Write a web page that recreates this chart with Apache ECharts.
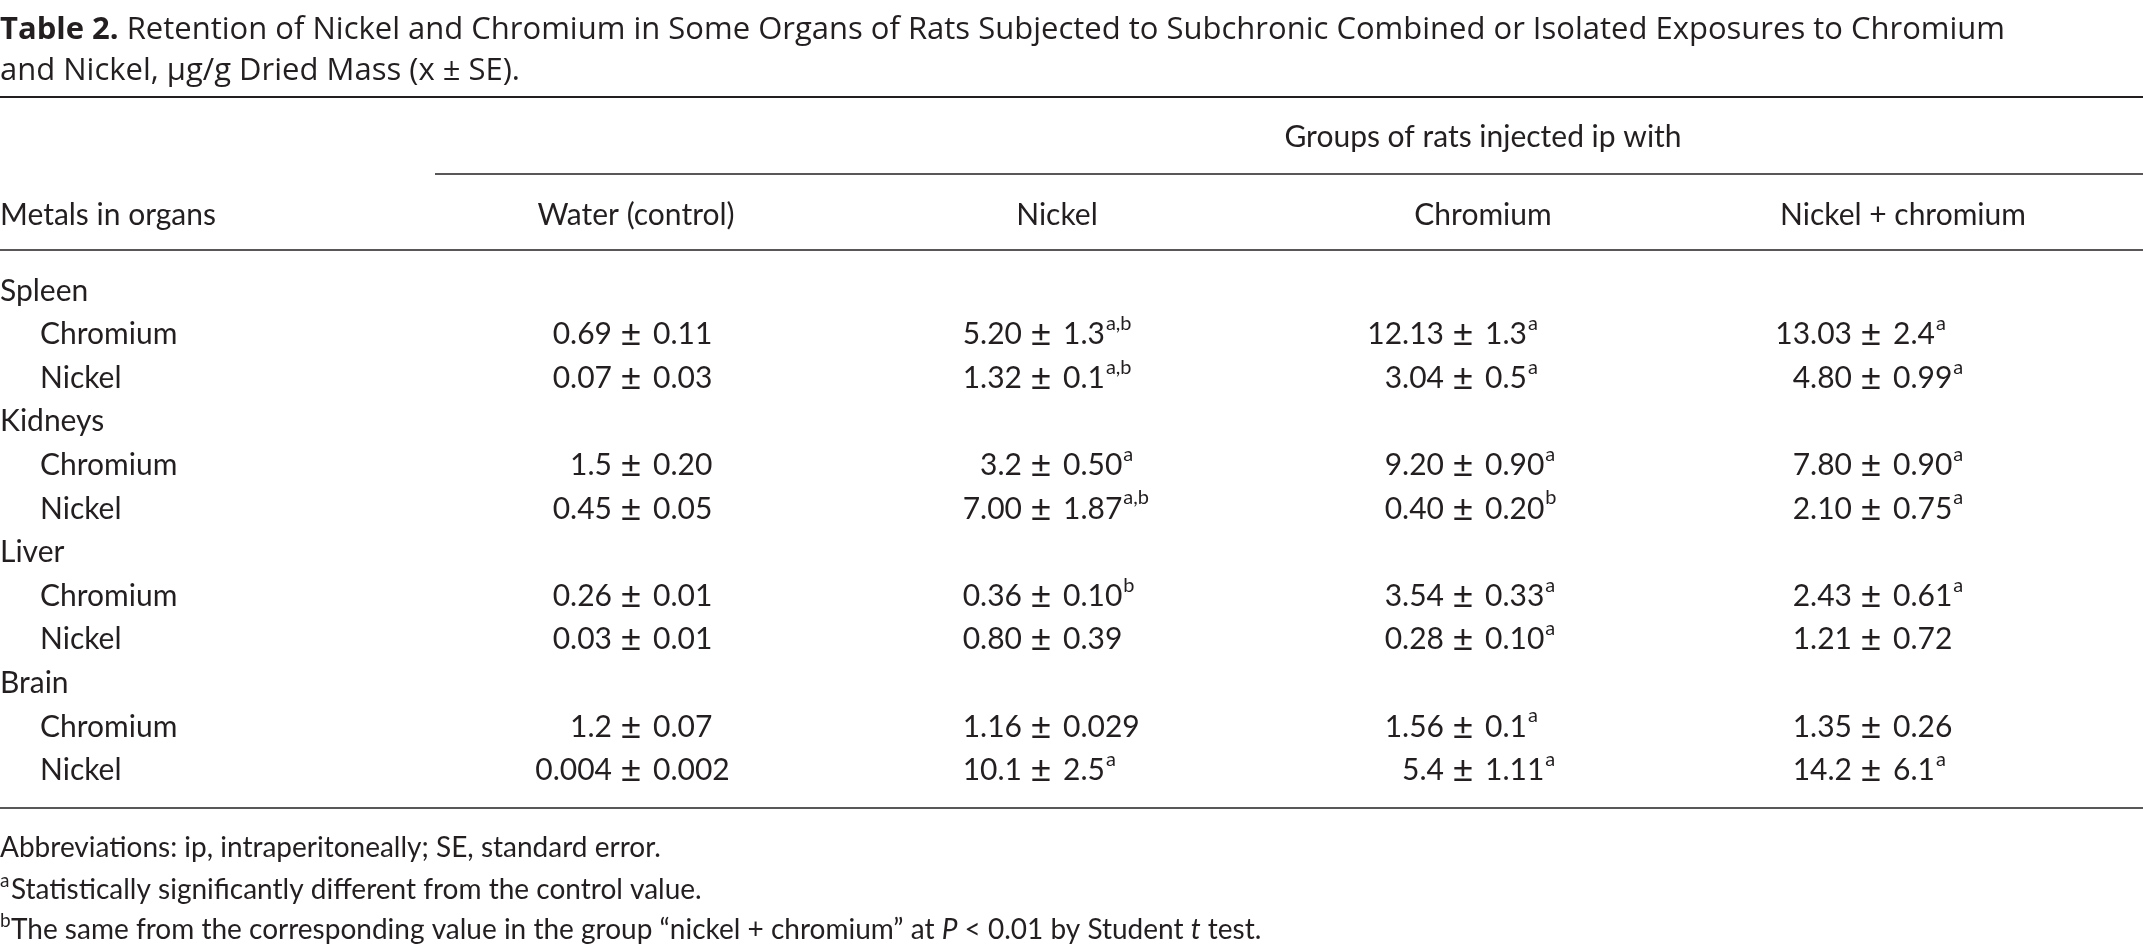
<!DOCTYPE html>
<html>
<head>
<meta charset="utf-8">
<title>Table 2</title>
<script src="https://cdn.jsdelivr.net/npm/echarts@6/dist/echarts.min.js"></script>
<style>html,body{margin:0;background:#fff}#main{width:2143px;height:944px}</style>
</head>
<body>
<div id="main"></div>
<script>
// table content
var groups = ['Water (control)', 'Nickel', 'Chromium', 'Nickel + chromium'];
var organs = ['Spleen', 'Kidneys', 'Liver', 'Brain'];
var metals = ['Chromium', 'Nickel'];
var means = [
  ['0.69', '5.20', '12.13', '13.03'],
  ['0.07', '1.32', '3.04', '4.80'],
  ['1.5', '3.2', '9.20', '7.80'],
  ['0.45', '7.00', '0.40', '2.10'],
  ['0.26', '0.36', '3.54', '2.43'],
  ['0.03', '0.80', '0.28', '1.21'],
  ['1.2', '1.16', '1.56', '1.35'],
  ['0.004', '10.1', '5.4', '14.2']
];
var errors = [
  ['0.11', '1.3', '1.3', '2.4'],
  ['0.03', '0.1', '0.5', '0.99'],
  ['0.20', '0.50', '0.90', '0.90'],
  ['0.05', '1.87', '0.20', '0.75'],
  ['0.01', '0.10', '0.33', '0.61'],
  ['0.01', '0.39', '0.10', '0.72'],
  ['0.07', '0.029', '0.1', '0.26'],
  ['0.002', '2.5', '1.11', '6.1']
];
var marks = [
  ['', 'a,b', 'a', 'a'],
  ['', 'a,b', 'a', 'a'],
  ['', 'a', 'a', 'a'],
  ['', 'a,b', 'b', 'a'],
  ['', 'b', 'a', 'a'],
  ['', '', 'a', ''],
  ['', '', 'a', ''],
  ['', 'a', 'a', 'a']
];

var chart = echarts.init(document.getElementById('main'));
var FONT = 'Lato, "Open Sans", sans-serif';
var INK = '#231f20';
var FS = 30;
var colCenter = [636, 1057, 1483, 1903];
var pmX = [631, 1041, 1463, 1871];
var rowTop = 291, rowStep = 43.6;

var ctx = document.createElement('canvas').getContext('2d');
function measure(s, font) { ctx.font = font; return ctx.measureText(s).width; }

var els = [];
function txt(x, y, s, align, extra) {
  var st = {text: s, x: x, y: y, textAlign: align || 'left', textVerticalAlign: 'middle',
    font: FS + 'px ' + FONT, fill: INK};
  if (extra) for (var k in extra) st[k] = extra[k];
  els.push({type: 'text', style: st});
}
function rule(x1, x2, y, w) {
  els.push({type: 'line', shape: {x1: x1, y1: y, x2: x2, y2: y}, style: {stroke: INK, lineWidth: w}});
}

// title
var TF = '"Open Sans", Lato, sans-serif';
var titleRich = {b: {fontWeight: 'bold', fontSize: 31, fontFamily: TF, fill: INK}, n: {fontSize: 31, fontFamily: TF, fill: INK}};
txt(0, 30, '{b|Table 2.}{n| Retention of Nickel and Chromium in Some Organs of Rats Subjected to Subchronic Combined or Isolated Exposures to Chromium}', 'left', {rich: titleRich, font: null});
txt(0, 71, 'and Nickel, μg/g Dried Mass (x ± SE).', 'left', {font: '31px ' + TF});

rule(0, 2143, 97, 2);
txt(1483, 137, 'Groups of rats injected ip with', 'center');
rule(435, 2143, 174, 1.5);
txt(0, 215, 'Metals in organs');
groups.forEach(function (g, i) { txt(colCenter[i], 215, g, 'center'); });
rule(0, 2143, 250, 1.5);

var r = 0;
organs.forEach(function (o, oi) {
  txt(0, rowTop + rowStep * r, o); r++;
  metals.forEach(function (m, mi) {
    var y = rowTop + rowStep * r;
    var k = oi * 2 + mi;
    txt(40, y, m);
    for (var c = 0; c < groups.length; c++) {
      txt(pmX[c] - 19, y, means[k][c], 'right');
      txt(pmX[c], y, '±', 'center', {font: '36px ' + FONT});
      txt(pmX[c] + 22, y, errors[k][c], 'left');
      if (marks[k][c]) {
        var w = measure(errors[k][c], FS + 'px ' + FONT);
        txt(pmX[c] + 23 + w, y - 11, marks[k][c], 'left', {font: '20px ' + FONT});
      }
    }
    r++;
  });
});
rule(0, 2143, 808, 1.5);

var fRich = {n: {fontSize: 28, fontFamily: FONT, fill: INK},
  i: {fontSize: 28, fontFamily: FONT, fill: INK, fontStyle: 'italic'}};
txt(0, 848, 'Abbreviations: ip, intraperitoneally; SE, standard error.', 'left', {font: '28px ' + FONT});
txt(0, 881, 'a', 'left', {font: '19px ' + FONT});
txt(11, 890, 'Statistically significantly different from the control value.', 'left', {font: '28px ' + FONT});
txt(0, 921, 'b', 'left', {font: '19px ' + FONT});
txt(11, 930, '{n|The same from the corresponding value in the group “nickel + chromium” at }{i|P}{n| < 0.01 by Student }{i|t}{n| test.}', 'left', {rich: fRich, font: null});

chart.setOption({animation: false, graphic: {elements: els}});
</script>
</body>
</html>
